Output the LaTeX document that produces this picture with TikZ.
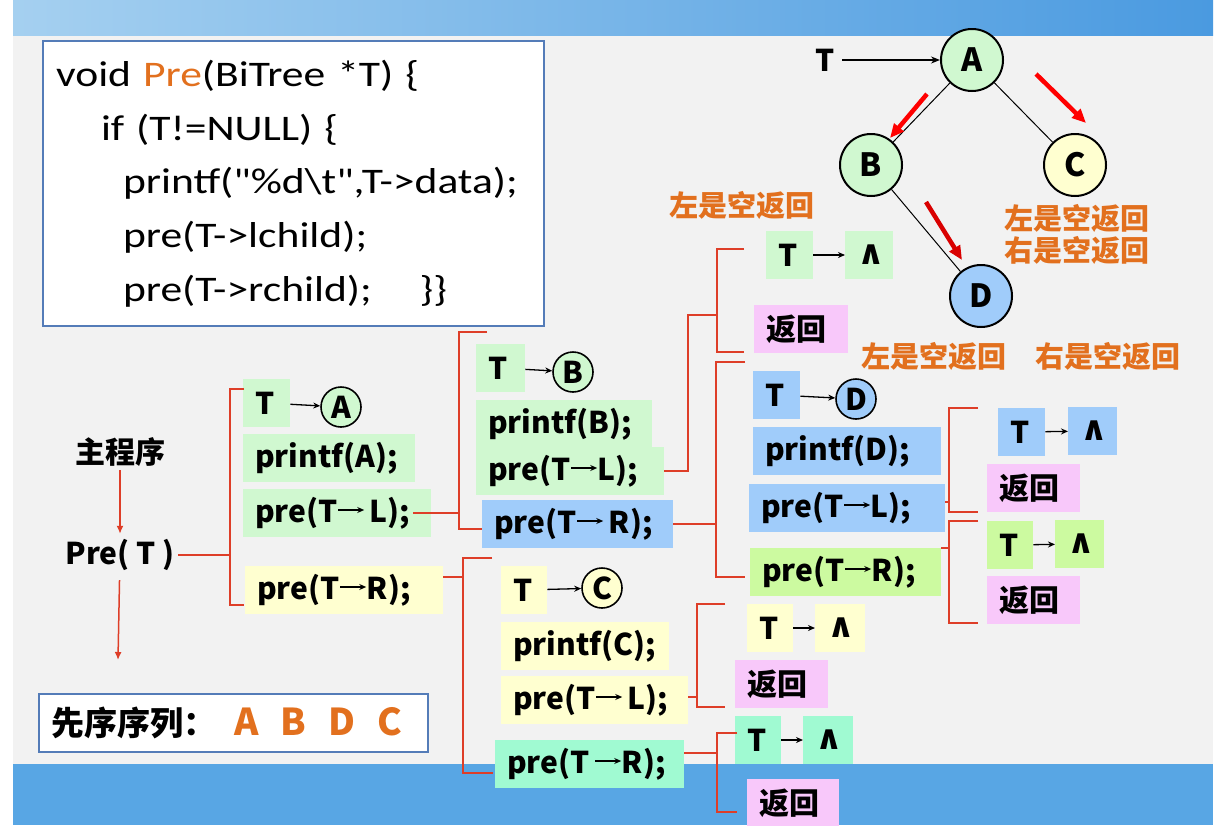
\documentclass[tikz,border=0pt]{standalone}
\usepackage{fontspec}
\setmainfont{Noto Sans CJK SC}
\newfontfamily\codefont{Carlito}[FakeStretch=1.21, Ligatures=TeXOff]
\newfontfamily\symfont{DejaVu Sans}
\usetikzlibrary{arrows.meta}

\definecolor{bg}{RGB}{242,242,242}
\definecolor{barL}{RGB}{165,208,240}
\definecolor{barR}{RGB}{74,154,224}
\definecolor{barB}{RGB}{88,166,228}
\definecolor{grn}{RGB}{208,248,208}
\definecolor{yel}{RGB}{255,255,208}
\definecolor{blu}{RGB}{160,204,250}
\definecolor{pnk}{RGB}{248,200,250}
\definecolor{lim}{RGB}{204,250,160}
\definecolor{aqu}{RGB}{160,250,210}
\definecolor{brkred}{RGB}{222,62,40}
\definecolor{org}{RGB}{226,112,30}
\definecolor{frame}{RGB}{84,124,184}

% short arrow inside the call texts
\newcommand{\ar}{\tikz[baseline=-0.75ex]\draw[-{Stealth[length=7pt,width=6pt]},line width=1.3pt] (0pt,0pt) -- (26pt,0pt);}
% empty pointer
\newcommand{\nil}{{\symfont\bfseries\fontsize{34}{36}\selectfont ∧}}

\begin{document}
\begin{tikzpicture}[
  x=1pt, y=-1pt,
  font=\bfseries\fontsize{30}{36}\selectfont,
  bx/.style={fill=#1, inner xsep=12pt, inner ysep=0pt, minimum height=48pt, anchor=west, align=left},
  ring/.style={circle, draw, line width=1.6pt, inner sep=0pt, minimum size=40pt, fill=#1},
  vtx/.style={circle, draw, line width=2pt, inner sep=0pt, minimum size=62pt, fill=#1,
    font=\bfseries\fontsize{32}{36}\selectfont},
  brk/.style={draw=brkred, line width=2pt},
  rarr/.style={draw=brkred, line width=1.5pt, -{Latex[length=8pt,width=7pt]}},
  karr/.style={line width=1.3pt, -{Stealth[length=7pt,width=6pt]}},
  hint/.style={text=org, font=\bfseries\fontsize{29}{32}\selectfont, align=center}
]
% slide background
\fill[white] (0,0) rectangle (1225,825);
\fill[bg] (13,35) rectangle (1213,764);
\shade[left color=barL, right color=barR] (13,0) rectangle (1213,35);
\fill[barB] (13,764) rectangle (1213,825);
\useasboundingbox (0,0) rectangle (1225,825);

% code
\node[draw=frame, line width=2pt, fill=white, anchor=north west, minimum width=501pt,
  minimum height=285pt, inner xsep=13pt, text width=475pt, align=left,
  font=\codefont\fontsize{36}{53.7}\selectfont] (code) at (42,40)
  {void {\color{org}Pre}(BiTree *T) \{\\
   \hspace*{45pt}if (T!=NULL) \{\\
   \hspace*{67pt}printf("\%d\textbackslash t",T->data);\\
   \hspace*{67pt}pre(T->lchild);\\
   \hspace*{67pt}pre(T->rchild);\quad\ \}\}};

% tree
\node[vtx=grn] (A) at (972,60) {A};
\node[vtx=grn] (B) at (871,165) {B};
\node[vtx=yel] (C) at (1075,165) {C};
\node[vtx=blu] (D) at (981,296) {D};
\draw[line width=1pt] (A) -- (B) (A) -- (C) (B) -- (D);
\node (T0) at (825,60) {T};
\draw[line width=1.4pt, -{Stealth[length=9pt,width=7pt]}, shorten <=4pt] (T0) -- (A);
\coordinate (rab1) at (927,94);  \coordinate (rab2) at (890,138);
\coordinate (rac1) at (1036,74); \coordinate (rac2) at (1086,123);
\coordinate (rbd1) at (926,202); \coordinate (rbd2) at (962,260);
\draw[red, line width=4.5pt, -{Triangle[length=14pt,width=12pt]}] (rab1) -- (rab2);
\draw[red, line width=4.5pt, -{Triangle[length=14pt,width=12pt]}] (rac1) -- (rac2);
\draw[red!85!black, line width=4.5pt, -{Triangle[length=14pt,width=12pt]}] (rbd1) -- (rbd2);

\node[hint] (h1) at (742,205) {左是空返回};
\node[hint] (h2) at (1077,234) {左是空返回\\右是空返回};
\node[hint] (h3) at (934,356) {左是空返回};
\node[hint] (h4) at (1108,356) {右是空返回};

% main program
\node (mainprog) at (120,452) {主程序};
\node (pmain) at (120,555) {Pre(~T~)};
\coordinate (seqin) at (118,660);
\node[draw=frame, line width=2pt, fill=white, anchor=north west, minimum width=389pt,
  minimum height=58pt, inner xsep=12pt, text width=365pt, align=left,
  font=\bfseries\fontsize{33}{38}\selectfont] (seq) at (38,693)
  {先序序列：\hspace{18pt}{\color{org}\fontsize{37}{40}\selectfont
   A\hspace{22pt}B\hspace{22pt}D\hspace{22pt}C}};
\draw[rarr, shorten >=2pt] (mainprog) -- (pmain);
\draw[rarr, shorten <=6pt] (pmain) -- (seqin);

% call on A
\node[bx=grn, text width=23pt] (tA) at (243,403) {T};
\node[ring=grn] (cA) at (341,407) {A};
\draw[karr] (tA) -- (cA);
\node[bx=grn, text width=148pt] (pA) at (243,458) {printf(A);};
\node[bx=grn, text width=164pt] (lA) at (243,513) {pre(T\ar\,L);};
\node[bx=yel, text width=174pt] (rA) at (245,590) {pre(T\ar R);};

% call on B
\node[bx=grn, text width=25pt] (tB) at (476,368) {T};
\node[ring=grn] (cB) at (573,372) {B};
\draw[karr] (tB) -- (cB);
\node[bx=grn, text width=152pt] (pB) at (476,424) {printf(B);};
\node[bx=grn, text width=164pt] (lB) at (476,471) {pre(T\ar L);};
\node[bx=blu, text width=167pt] (rB) at (482,524) {pre(T\ar\,R);};

% left of B
\node[bx=grn, text width=23pt] (tBL) at (766,255) {T};
\node[bx=grn, text width=24pt] (nBL) at (845,255) {\nil};
\draw[karr] (tBL) -- (nBL);
\node[bx=pnk, text width=70pt] (bBL) at (754,329) {返回};

% call on D
\node[bx=blu, text width=23pt] (tD) at (753,395) {T};
\node[ring=blu] (cD) at (856,399) {D};
\draw[karr] (tD) -- (cD);
\node[bx=blu, text width=164pt] (pD) at (753,451) {printf(D);};
\node[bx=blu, text width=172pt] (lD) at (749,508) {pre(T\ar L);};
\node[bx=lim, text width=167pt] (rD) at (750,572) {pre(T\ar R);};

\node[bx=blu, text width=23pt] (tDL) at (998,432) {T};
\node[bx=blu, text width=25pt] (nDL) at (1068,431) {\nil};
\draw[karr] (tDL) -- (nDL);
\node[bx=pnk, text width=69pt] (bDL) at (987,488) {返回};
\node[bx=lim, text width=22pt] (tDR) at (987,545) {T};
\node[bx=lim, text width=25pt] (nDR) at (1055,544) {\nil};
\draw[karr] (tDR) -- (nDR);
\node[bx=pnk, text width=69pt] (bDR) at (987,600) {返回};

% call on C
\node[bx=yel, text width=22pt] (tC) at (501,590) {T};
\node[ring=yel] (cC) at (602,588) {C};
\draw[karr] (tC) -- (cC);
\node[bx=yel, text width=144pt] (pC) at (501,646) {printf(C);};
\node[bx=yel, text width=163pt] (lC) at (501,700) {pre(T\ar\,L);};
\node[bx=aqu, text width=165pt] (rC) at (495,764) {pre(T\,\ar R);};

\node[bx=yel, text width=22pt] (tCL) at (747,628) {T};
\node[bx=yel, text width=26pt] (nCL) at (815,628) {\nil};
\draw[karr] (tCL) -- (nCL);
\node[bx=pnk, text width=69pt] (bCL) at (735,684) {返回};
\node[bx=aqu, text width=22pt] (tCR) at (735,740) {T};
\node[bx=aqu, text width=26pt] (nCR) at (803,740) {\nil};
\draw[karr] (tCR) -- (nCR);
\node[bx=pnk, text width=68pt] (bCR) at (747,803) {返回};

% brackets
\coordinate (sA1) at (230,389); \coordinate (sA2) at (230,605);
\draw[brk] (pmain) -- (pmain -| sA1);
\draw[brk] ([xshift=14pt]sA1) -- (sA1) -- (sA2) -- ([xshift=14pt]sA2);

\coordinate (sB1) at (459,332); \coordinate (sB2) at (459,529);
\draw[brk] ([xshift=-18pt]lA.east) -- (lA.east -| sB1);
\draw[brk] ([xshift=28pt]sB1) -- (sB1) -- (sB2) -- ([xshift=23pt]sB2);

\coordinate (sC1) at (717,249); \coordinate (sC2) at (717,352);
\coordinate (jC) at (717,315);
\draw[brk] (lB.east) -| ([xshift=-29pt]jC) -- (jC);
\draw[brk] ([xshift=27pt]sC1) -- (sC1) -- (sC2) -- ([xshift=27pt]sC2);

\coordinate (sD1) at (716,362); \coordinate (sD2) at (716,577);
\draw[brk] (rB.east) -- (rB.east -| sD1);
\draw[brk] ([xshift=29pt]sD1) -- (sD1) -- (sD2) -- ([xshift=29pt]sD2);

\coordinate (sE1) at (949,408); \coordinate (sE2) at (949,512);
\draw[brk] ([yshift=6pt]lD.east) -- ([yshift=6pt]lD.east -| sE1);
\draw[brk] ([xshift=29pt]sE1) -- (sE1) -- (sE2) -- ([xshift=29pt]sE2);

\coordinate (sF1) at (949,521); \coordinate (sF2) at (949,623);
\draw[brk] ([yshift=24pt]rD.east) -- ([yshift=24pt]rD.east -| sF1);
\draw[brk] ([xshift=29pt]sF1) -- (sF1) -- (sF2) -- ([xshift=29pt]sF2);

\coordinate (sG1) at (463,558); \coordinate (sG2) at (463,773);
\draw[brk] ([yshift=13pt]rA.east) -- ([yshift=13pt]rA.east -| sG1);
\draw[brk] ([xshift=29pt]sG1) -- (sG1) -- (sG2) -- ([xshift=30pt]sG2);

\coordinate (sH1) at (697,604); \coordinate (sH2) at (697,707);
\draw[brk] ([yshift=3pt]lC.east) -- ([yshift=3pt]lC.east -| sH1);
\draw[brk] ([xshift=28pt]sH1) -- (sH1) -- (sH2) -- ([xshift=28pt]sH2);

\coordinate (sI1) at (717,733); \coordinate (sI2) at (717,812);
\draw[brk] ([yshift=11pt]rC.east) -- ([yshift=11pt]rC.east -| sI1);
\draw[brk] ([xshift=20pt]sI1) -- (sI1) -- (sI2) -- ([xshift=20pt]sI2);
\end{tikzpicture}
\end{document}
